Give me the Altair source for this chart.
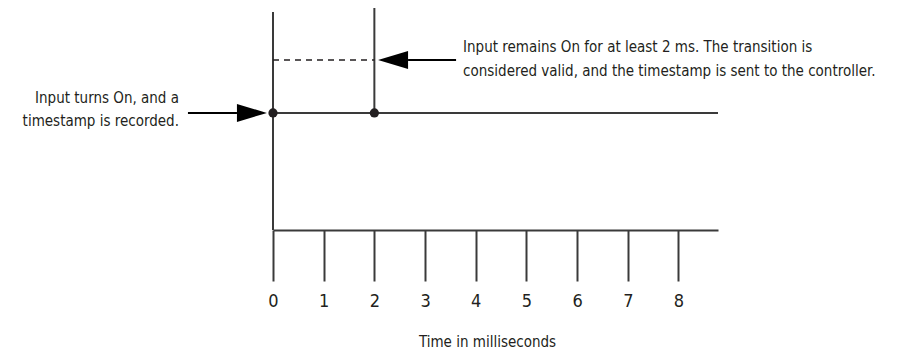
import altair as alt
import pandas as pd

FONT = "DejaVu Sans Condensed"
FS = 15
INK = "#231f20"
LINE = "#3a3a3a"

# time axis ticks (ms)
ticks = [0, 1, 2, 3, 4, 5, 6, 7, 8]
x_end = 8.78
y_top = 1.897

# signal: input level (On = 1) over time
signal_t = [0, x_end]
signal_lvl = [1, 1]

# transition edges: time, bottom level, top level
edge_t = [0, 2]
edge_lo = [0, 1]
edge_hi = [1.863, 1.897]

# 2 ms validation window (dashed)
win_t = [0, 2]
win_lvl = [1.453, 1.453]

# recorded events (dots)
event_t = [0, 2]
event_lvl = [1, 1]

# annotation arrows: shaft start/end, head position, level
arrow_x1 = [-1.678, 3.612]
arrow_x2 = [-0.711, 2.665]
arrow_head = [-0.415, 2.369]
arrow_lvl = [1.0, 1.453]
arrow_dir = ["right", "left"]

# annotation texts
left_lines = ["Input turns On, and a", "timestamp is recorded."]
left_lvl = [1.128, 0.932]
left_x = -1.855
right_lines = ["Input remains On for at least 2 ms. The transition is",
               "considered valid, and the timestamp is sent to the controller."]
right_lvl = [1.564, 1.359]
right_x = 3.75

xs = alt.Scale(domain=[0, x_end], nice=False, zero=False)
ys = alt.Scale(domain=[0, y_top], nice=False, zero=False)

sig_df = pd.DataFrame({"t": signal_t, "lvl": signal_lvl})
edge_df = pd.DataFrame({"t": edge_t, "lo": edge_lo, "hi": edge_hi})
win_df = pd.DataFrame({"t": win_t, "lvl": win_lvl})
ev_df = pd.DataFrame({"t": event_t, "lvl": event_lvl})
arr_df = pd.DataFrame({"x1": arrow_x1, "x2": arrow_x2, "h": arrow_head,
                       "lvl": arrow_lvl, "dir": arrow_dir})
lt_df = pd.DataFrame({"txt": left_lines, "lvl": left_lvl, "x": [left_x] * 2})
rt_df = pd.DataFrame({"txt": right_lines, "lvl": right_lvl, "x": [right_x] * 2})
tick_df = pd.DataFrame({"t": ticks})

xaxis = alt.Axis(values=ticks, tickSize=51, tickWidth=2, tickColor=LINE,
                 domainColor=LINE, domainWidth=2, grid=False,
                 labelFont=FONT, labelFontSize=18, labelColor=INK, labelPadding=11,
                 labelFlush=False, labelOverlap=False,
                 title="Time in milliseconds", titleFont=FONT, titleFontSize=FS,
                 titleFontWeight="normal", titleColor=INK, titlePadding=24,
                 titleX=214, titleAnchor="start", titleAlign="center")

base_axis = alt.Chart(tick_df).mark_point(opacity=0).encode(
    x=alt.X("t:Q", scale=xs, axis=xaxis),
    y=alt.Y("t:Q", scale=ys, axis=None),
)

signal = alt.Chart(sig_df).mark_line(color=LINE, strokeWidth=2).encode(
    x=alt.X("t:Q", scale=xs), y=alt.Y("lvl:Q", scale=ys))

edges = alt.Chart(edge_df).mark_rule(color=LINE, strokeWidth=2).encode(
    x=alt.X("t:Q", scale=xs), y=alt.Y("lo:Q", scale=ys), y2="hi:Q")

window = alt.Chart(win_df).mark_line(color=INK, strokeWidth=1.5, strokeDash=[6, 5]).encode(
    x=alt.X("t:Q", scale=xs), y=alt.Y("lvl:Q", scale=ys))

events = alt.Chart(ev_df).mark_point(filled=True, color=INK, size=85, opacity=1).encode(
    x=alt.X("t:Q", scale=xs), y=alt.Y("lvl:Q", scale=ys))

shafts = alt.Chart(arr_df).mark_rule(color="#000000", strokeWidth=2).encode(
    x=alt.X("x1:Q", scale=xs), x2="x2:Q", y=alt.Y("lvl:Q", scale=ys))

head_r = alt.Chart(arr_df).transform_filter(alt.datum.dir == "right").mark_point(
    shape="M -1 -0.6 L 1 0 L -1 0.6 Z", filled=True, color="#000000", size=900, opacity=1,
    strokeWidth=0).encode(x=alt.X("h:Q", scale=xs), y=alt.Y("lvl:Q", scale=ys))

head_l = alt.Chart(arr_df).transform_filter(alt.datum.dir == "left").mark_point(
    shape="M 1 -0.6 L -1 0 L 1 0.6 Z", filled=True, color="#000000", size=900, opacity=1,
    strokeWidth=0).encode(x=alt.X("h:Q", scale=xs), y=alt.Y("lvl:Q", scale=ys))

ltext = alt.Chart(lt_df).mark_text(align="right", baseline="middle", font=FONT,
                                   fontSize=FS, color=INK).encode(
    x=alt.X("x:Q", scale=xs), y=alt.Y("lvl:Q", scale=ys), text="txt:N")

rtext = alt.Chart(rt_df).mark_text(align="left", baseline="middle", font=FONT,
                                   fontSize=FS, color=INK).encode(
    x=alt.X("x:Q", scale=xs), y=alt.Y("lvl:Q", scale=ys), text="txt:N")

chart = alt.layer(base_axis, signal, edges, window, events, shafts, head_r, head_l,
                  ltext, rtext).properties(
    width=445, height=222,
    background="white",
    autosize=alt.AutoSizeParams(type="none"),
    padding={"left": 265, "top": 0, "right": 186, "bottom": 120},
).configure_view(stroke=None)

chart.save("out.html", embed_options={"renderer": "svg", "actions": False})
